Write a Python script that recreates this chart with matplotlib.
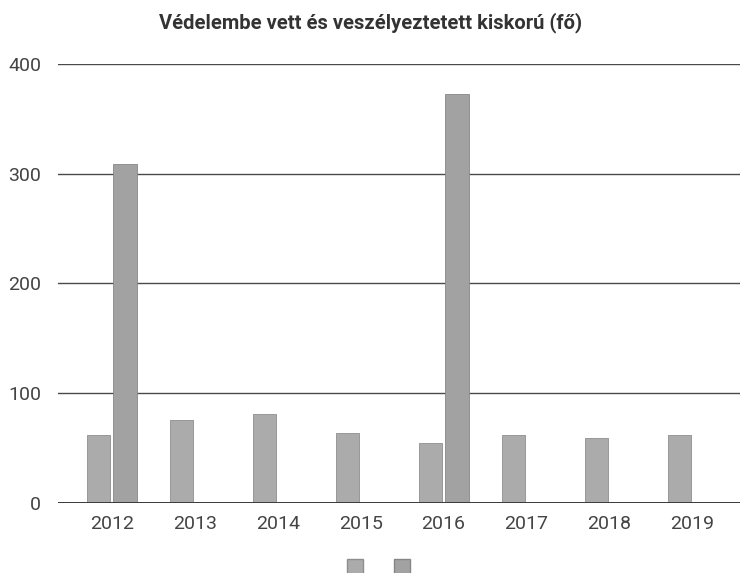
import numpy as np
import matplotlib
matplotlib.use('Agg')
import matplotlib.pyplot as plt
from matplotlib.patches import Patch

plt.rcParams['font.family'] = ['Roboto', 'DejaVu Sans']

years = ['2012', '2013', '2014', '2015', '2016', '2017', '2018', '2019']
vedelembe = [62, 75, 81, 63, 54, 62, 59, 62]
veszelyeztetett = [309, 0, 0, 0, 373, 0, 0, 0]

x = np.arange(len(years))
w = 0.28
off = 0.16

fig = plt.figure(figsize=(7.42, 5.73), dpi=100)
ax = fig.add_axes([0.078, 0.123, 0.919, 0.765])

ax.bar(x - off, vedelembe, width=w, color='#ababab', edgecolor='#8e8e8e', linewidth=0.6, zorder=3)
ax.bar(x + off, veszelyeztetett, width=w, color='#a2a2a2', edgecolor='#868686', linewidth=0.6, zorder=3)

ax.set_xlim(-0.65, 7.57)
ax.set_ylim(0, 400)
ax.set_yticks([0, 100, 200, 300, 400])
ax.set_xticks(x)
ax.set_xticklabels(years)
ax.grid(axis='y', color='#4a4a4a', linewidth=1.0, zorder=0)
ax.axhline(0, color='#3a3a3a', linewidth=1.4, zorder=4)
for s in ax.spines.values():
    s.set_visible(False)
ax.tick_params(length=0, labelsize=14, labelcolor='#444444')
ax.tick_params(axis='x', pad=9)
ax.tick_params(axis='y', pad=12)

fig.text(0.5, 0.960, 'Védelembe vett és veszélyeztetett kiskorú (fő)', ha='center', va='center',
         fontsize=14.5, fontweight='bold', color='#333333')

handles = [Patch(facecolor='#ababab', edgecolor='#8e8e8e'), Patch(facecolor='#a2a2a2', edgecolor='#868686')]
fig.legend(handles, ['', ''], loc='lower center', bbox_to_anchor=(0.512, -0.035), ncol=2, frameon=False,
           handlelength=1.2, handleheight=2.0, columnspacing=2.0, handletextpad=0.2)

fig.savefig('out.png', dpi=100)
